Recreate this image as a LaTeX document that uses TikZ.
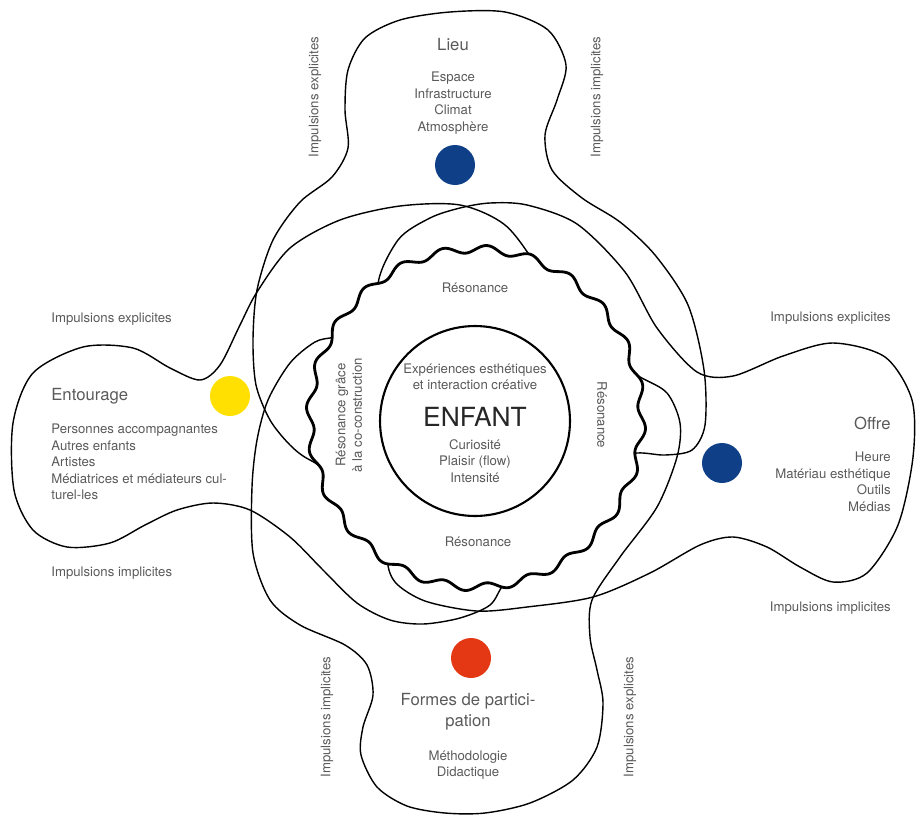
\documentclass[tikz,border=0pt]{standalone}
\usepackage{fontspec}
\setmainfont{TeX Gyre Heros}
\usepackage{tikz}
\usetikzlibrary{positioning}
\definecolor{deepblue}{RGB}{14,63,135}
\definecolor{sunyellow}{RGB}{255,224,0}
\definecolor{firered}{RGB}{228,56,20}
\definecolor{txtgray}{RGB}{90,90,90}
\tikzstyle{blob}=[draw=black, line width=0.8pt]
\tikzstyle{wavy}=[draw=black, line width=1.6pt, fill=white]
\tikzstyle{ring}=[draw=black, line width=1.2pt]
\tikzstyle{dot}=[circle, inner sep=0pt, minimum size=0.8cm]
\tikzstyle{txt}=[inner sep=0pt, text=txtgray, font=\fontsize{7.5}{9.4}\selectfont]
\tikzstyle{head}=[inner sep=0pt, text=txtgray, font=\fontsize{9.5}{12}\selectfont]

\begin{document}
\begin{tikzpicture}[x=0.02cm, y=-0.02cm]
\useasboundingbox (0,0) rectangle (918,815);
%
% Lieu
  \draw[blob] plot[smooth cycle] coordinates {(310,460) (350,475) (476,475) (600,460)
    (637,453) (665,455) (692,450) (705,425) (704,370) (688,305) (655,255) (620,222)
    (582,198) (552,170) (545,135) (557,100) (566,65) (548,30) (505,12) (450,12)
    (400,20) (365,38) (348,70) (345,110) (348,148) (332,177) (300,202) (273,240)
    (257,290) (253,340) (256,385) (270,420) (290,445)};
%
% Entourage
  \draw[blob] plot[smooth cycle] coordinates {(537,267) (565,320) (575,420) (545,530)
    (505,582) (490,605) (460,618) (423,624) (390,620) (357,603) (323,570) (290,537)
    (250,510) (213,503) (177,510) (145,525) (110,543) (67,547) (33,530) (14,490)
    (13,423) (33,373) (83,347) (133,348) (170,368) (200,380) (220,365) (240,325)
    (257,292) (290,248) (340,220) (400,206) (460,205) (505,225)};
%
% Offre
  \draw[blob] plot[smooth cycle] coordinates {(378,288) (405,340) (395,420) (405,510)
    (388,556) (395,582) (425,601) (477,611) (527,607) (593,597) (650,573) (700,545)
    (733,537) (767,547) (800,567) (833,582) (867,573) (898,525) (913,457) (912,400)
    (885,357) (833,343) (783,356) (733,376) (697,372) (657,328) (625,272) (577,224)
    (527,205) (490,203) (460,208) (430,218) (398,240)};
%
% Formes de participation
  \draw[blob] plot[smooth cycle] coordinates {(335,337) (315,342) (290,363) (268,400)
    (257,440) (252,487) (253,553) (270,600) (300,625) (345,645) (367,665) (373,695)
    (363,727) (361,755) (377,787) (407,806) (445,813) (485,813) (530,803) (573,780)
    (597,747) (603,703) (597,670) (590,637) (592,600) (620,557) (657,507) (677,457)
    (680,423) (667,393) (640,377) (590,350) (476,310) (375,328)};
%
% resonance and child
  \draw[wavy] plot[domain=0:360, samples=721]
    ({476+(166+3.8*sin(24*\x))*cos(\x)}, {418+(169+3.8*sin(24*\x))*sin(\x)}) -- cycle;
  \draw[ring] (475,421) circle (1.9cm);
%
  \node[dot, fill=deepblue] (lieudot) at (455,165) {};
  \node[dot, fill=sunyellow] (entdot) at (230,396) {};
  \node[dot, fill=deepblue] (offdot) at (722,463) {};
  \node[dot, fill=firered] (formdot) at (471,658) {};
%
  \node[head] (lieu) at (453,45) {Lieu};
  \node[txt, align=center] (lieulist) at (453,103) {Espace\\Infrastructure\\Climat\\Atmosphère};
  \node[txt, rotate=90] (lieuexp) at (315,97) {Impulsions explicites};
  \node[txt, rotate=90] (lieuimp) at (597,97) {Impulsions implicites};
%
  \node[txt, anchor=west] (entexp) at (51,319) {Impulsions explicites};
  \node[head, anchor=west] (ent) at (51,396) {Entourage};
  \node[txt, anchor=west, align=left] (entlist) at (51,462) {Personnes accompagnantes\\Autres enfants\\Artistes\\Médiatrices et médiateurs cul-\\turel-les};
  \node[txt, anchor=west] (entimp) at (51,573) {Impulsions implicites};
%
  \node[txt, anchor=east] (offexp) at (891,318) {Impulsions explicites};
  \node[head, anchor=east] (off) at (891,423) {Offre};
  \node[txt, anchor=east, align=right] (offlist) at (891,482) {Heure\\Matériau esthétique\\Outils\\Médias};
  \node[txt, anchor=east] (offimp) at (891,608) {Impulsions implicites};
%
  \node[head, align=center] (form) at (468,712) {Formes de partici-\\pation};
  \node[txt, align=center] (formlist) at (468,765) {Méthodologie\\Didactique};
  \node[txt, rotate=90] (formimp) at (327,717) {Impulsions implicites};
  \node[txt, rotate=90] (formexp) at (630,717) {Impulsions explicites};
%
  \node[txt] (restop) at (475,288) {Résonance};
  \node[txt] (resbot) at (478,542) {Résonance};
  \node[txt, rotate=-90] (resright) at (602,415) {Résonance};
  \node[txt, rotate=90, align=center] (resleft) at (349,415) {Résonance grâce\\à la co-construction};
  \node[txt, align=center] (exp) at (475,377) {Expériences esthétiques\\et interaction créative};
  \node[inner sep=0pt, text=black!85, font=\fontsize{15}{18}\selectfont] (enfant) at (475,417) {ENFANT};
  \node[txt, align=center] (qual) at (475,461) {Curiosité\\Plaisir (flow)\\Intensité};
\end{tikzpicture}
\end{document}
